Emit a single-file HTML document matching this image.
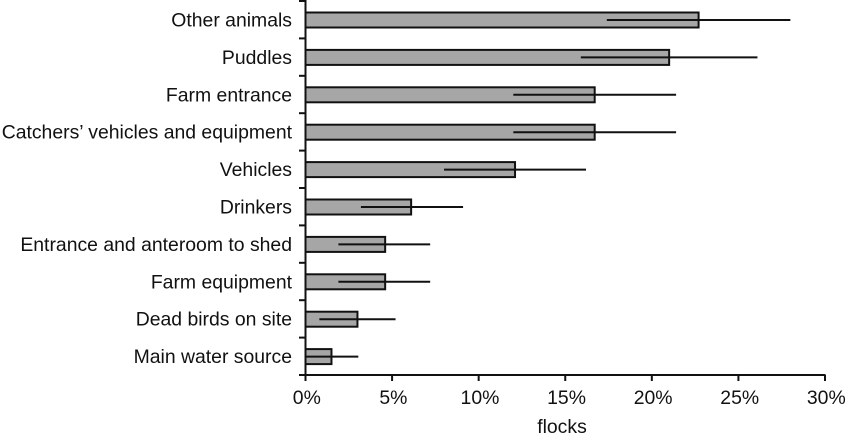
<!DOCTYPE html>
<html>
<head>
<meta charset="utf-8">
<style>
html,body{margin:0;padding:0;background:#fff;width:847px;height:439px;overflow:hidden}
svg{display:block}
text{font-family:"Liberation Sans",Arial,sans-serif;font-size:19.4px;fill:#111}
</style>
</head>
<body>
<svg id="chart" width="847" height="439" viewBox="0 0 847 439" xmlns="http://www.w3.org/2000/svg"></svg>
<script>
const categories = ["Other animals","Puddles","Farm entrance","Catchers\u2019 vehicles and equipment","Vehicles","Drinkers","Entrance and anteroom to shed","Farm equipment","Dead birds on site","Main water source"];
const values = [22.7,21,16.7,16.7,12.1,6.1,4.6,4.6,3.0,1.5];
const errorLow = [17.4,15.9,12.0,12.0,8.0,3.2,1.9,1.9,0.8,0];
const errorHigh = [28,26.1,21.4,21.4,16.2,9.1,7.2,7.2,5.2,3.05];
const xTicks = [0,5,10,15,20,25,30];

const svg = document.getElementById('chart');
const NS = 'http://www.w3.org/2000/svg';
const x = v => 305.5 + v * (825 - 305.5) / 30;
const bandTop = i => 1 + i * (375 - 1) / categories.length;
const bandH = (375 - 1) / categories.length;
function add(tag, attrs, parent){
  const el = document.createElementNS(NS, tag);
  for (const k in attrs) el.setAttribute(k, attrs[k]);
  (parent || svg).appendChild(el);
  return el;
}
function line(x1,y1,x2,y2,w){
  return add('line',{x1:x1,y1:y1,x2:x2,y2:y2,stroke:'#111','stroke-width':w||2});
}
categories.forEach((c,i)=>{
  const cy = bandTop(i) + bandH/2 + 0.3;
  const bar = add('rect',{x:x(0),y:cy-7.5,width:x(values[i])-x(0),height:15,fill:'#a6a6a6',stroke:'#111','stroke-width':2});
  
  
  const err = line(x(errorLow[i]),cy,x(errorHigh[i]),cy,2);
  
  
  const t = add('text',{x:292,y:cy+6.5,'text-anchor':'end'});
  t.textContent = c;
  
  
});
for (let i=0;i<=categories.length;i++){
  const tk = line(299,bandTop(i),305.5,bandTop(i),2);
  
  
}
const yAxis = line(305.5,0,305.5,375,2);


const xAxis = line(299,375,825.5,375,2);


xTicks.forEach(v=>{
  const tk = line(x(v),375,x(v),381,2);
  
  
  const t = add('text',{x:x(v)+1.3,y:404,'text-anchor':'middle'});
  t.textContent = v + '%';
  
  
});
const title = add('text',{x:562,y:433,'text-anchor':'middle'});
title.textContent = 'flocks';


</script>
</body>
</html>
